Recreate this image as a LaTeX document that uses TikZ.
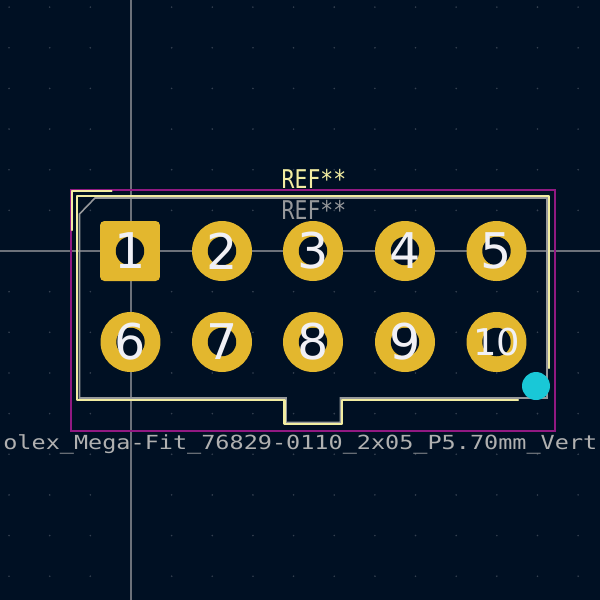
\documentclass[tikz,border=0pt]{standalone}
\usepackage{fontspec}
\setmainfont{DejaVu Sans}
\newfontfamily\reffont[FakeStretch=0.83]{DejaVu Sans Mono}
\newfontfamily\valuefont[FakeStretch=1.21]{DejaVu Sans Mono}
\definecolor{pcbbg}{RGB}{0,16,35}
\definecolor{pcbgrid}{RGB}{52,64,80}
\definecolor{pcbcross}{RGB}{108,113,122}
\definecolor{pcbcourt}{RGB}{145,25,130}
\definecolor{pcbsilk}{RGB}{242,237,161}
\definecolor{pcbfab}{RGB}{150,152,155}
\definecolor{pcbvalue}{RGB}{176,176,176}
\definecolor{pcbpad}{RGB}{227,183,46}
\definecolor{pcbnum}{RGB}{240,240,245}
\definecolor{pcborigin}{RGB}{25,200,215}
\tikzset{
  padround/.style={circle,fill=pcbpad,minimum size=1.2cm,inner sep=0pt},
  padsquare/.style={fill=pcbpad,rounded corners=2.5pt,minimum size=1.2cm,inner sep=0pt},
  padhole/.style={circle,fill=pcbbg,minimum size=0.57cm,inner sep=0pt},
  padnum/.style={text=pcbnum,inner sep=0pt,font=\fontsize{28pt}{30pt}\selectfont},
  silkline/.style={draw=pcbsilk,line width=1.35pt,line cap=round,line join=round},
  fabline/.style={draw=pcbfab,line width=0.9pt},
  reftext/.style={inner sep=0pt,font=\reffont\fontsize{14.7pt}{16pt}\selectfont}
}
\begin{document}
\begin{tikzpicture}[x=0.02cm,y=-0.02cm]
  \useasboundingbox (0,0) rectangle (600,600);
  \clip (0,0) rectangle (600,600);
  \fill[pcbbg] (0,0) rectangle (600,600);

  %% grid dots
  \foreach \i in {-3,...,11}
    \foreach \j in {-6,...,8}
      \fill[pcbgrid] ({131+40.65*\i},{251+40.65*\j}) circle (0.9);

  %% crosshair
  \draw[pcbcross,line width=0.9pt] (131,0) -- (131,600);
  \draw[pcbcross,line width=0.9pt] (0,251) -- (600,251);

  %% courtyard
  \draw[pcbcourt,line width=0.75pt] (71,190) rectangle (555,431);

  %% fab outline
  \draw[fabline] (95,198) -- (547,198) -- (547,398) -- (340.5,398) -- (340.5,422.5)
    -- (286,422.5) -- (286,398) -- (79.5,398) -- (79.5,214) -- cycle;

  %% silkscreen outline
  \draw[silkline] (548.7,368) -- (548.7,195.7) -- (77,195.7) -- (77,399.7) -- (284.5,399.7)
    -- (284.5,424) -- (342,424) -- (342,399.7) -- (518,399.7);
  \draw[silkline] (72.3,230) -- (72.3,191) -- (111.5,191);

  %% pads
  \node[padsquare] (pad1) at (130,251) {};
  \foreach \n/\px/\py in {2/222/251,3/313/251,4/405/251,5/496.5/251,
                          6/130.5/342,7/222/342,8/313/342,9/405/342,10/496.5/342}
    \node[padround] (pad\n) at (\px,\py) {};
  \foreach \n in {1,...,10}
    \node[padhole] (hole\n) at (pad\n.center) {};
  \foreach \n in {1,...,9}
    \node[padnum] (num\n) at (pad\n.center) {\n};
  \node[padnum,font=\fontsize{21pt}{23pt}\selectfont] (num10) at (pad10.center) {10};

  %% origin marker
  \node[circle,fill=pcborigin,minimum size=0.56cm,inner sep=0pt] (origin) at (536,386) {};

  %% texts
  \node[reftext,text=pcbsilk] (refsilk) at (314,179) {REF**};
  \node[reftext,text=pcbfab] (reffab) at (314,209.5) {REF**};
  \node[anchor=west,inner sep=0pt,text=pcbvalue,font=\valuefont\fontsize{11.05pt}{13pt}\selectfont]
    (valuetext) at (3,444) {olex\_Mega-Fit\_76829-0110\_2x05\_P5.70mm\_Vert};
\end{tikzpicture}
\end{document}
